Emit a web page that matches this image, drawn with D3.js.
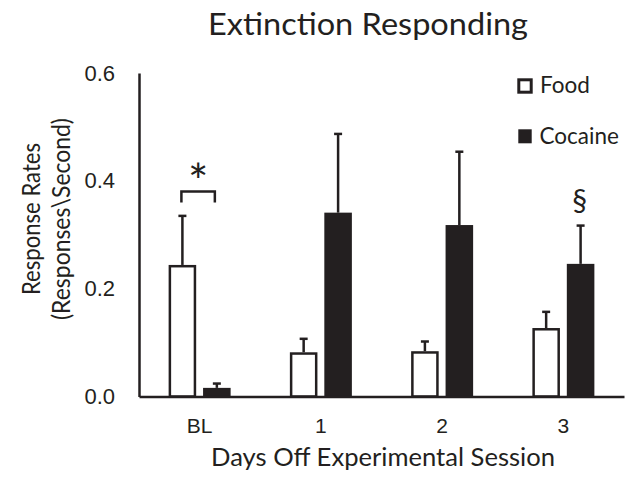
<!DOCTYPE html>
<html>
<head>
<meta charset="utf-8">
<script src="https://cdn.jsdelivr.net/npm/d3@7"></script>
<style>
  body { margin: 0; background: #fff; }
  svg { display: block; font-family: Lato, "Open Sans", sans-serif; }
</style>
</head>
<body>
<svg id="chart" width="634" height="482"></svg>
<script>
// values
var categories = ["BL", "1", "2", "3"];
var series = ["Food", "Cocaine"];
var foodValues = [0.244, 0.082, 0.084, 0.127];
var foodErrors = [0.091, 0.025, 0.018, 0.030];
var cocaineValues = [0.016, 0.341, 0.318, 0.246];
var cocaineErrors = [0.008, 0.146, 0.136, 0.071];
var yTicks = [0, 0.2, 0.4, 0.6];

var ink = "#231f20";

var draw = {

    margin: {top: 73, right: 10, bottom: 85, left: 139},

    index: function () {
        var svg = d3.select("#chart");
        var m = draw.margin;

        var x = d3.scaleBand()
            .domain(categories)
            .range([m.left, 624]);
        var inner = d3.scaleBand()
            .domain(series)
            .range([-31, 31])
            .paddingInner(0.2);
        var y = d3.scaleLinear()
            .domain([0, 0.6])
            .range([396.5, 73]);

        var rows = [];
        categories.forEach(function (c, i) {
            rows.push({cat: c, s: "Food", v: foodValues[i], e: foodErrors[i]});
            rows.push({cat: c, s: "Cocaine", v: cocaineValues[i], e: cocaineErrors[i]});
        });
        function cx(d) { return x(d.cat) + x.bandwidth() / 2 + inner(d.s) + inner.bandwidth() / 2; }

        // title
        svg.append("text")
            .attr("x", 368).attr("y", 35)
            .attr("text-anchor", "middle")
            .attr("font-size", 30)
            .attr("textLength", 320).attr("lengthAdjust", "spacingAndGlyphs")
            .attr("fill", ink)
            .text("Extinction Responding");

        // error bars (only upward)
        var err = svg.append("g").attr("class", "errors")
            .attr("stroke", ink).attr("stroke-width", 2.5);
        err.selectAll("line.stem").data(rows).enter().append("line")
            .attr("class", "stem")
            .attr("x1", cx).attr("x2", cx)
            .attr("y1", function (d) { return y(d.v); })
            .attr("y2", function (d) { return y(d.v + d.e); });
        err.selectAll("line.cap").data(rows).enter().append("line")
            .attr("class", "cap")
            .attr("x1", function (d) { return cx(d) - 4; })
            .attr("x2", function (d) { return cx(d) + 4; })
            .attr("y1", function (d) { return y(d.v + d.e); })
            .attr("y2", function (d) { return y(d.v + d.e); });

        // bars
        var sw = 2.5;
        svg.append("g").attr("class", "bars")
            .selectAll("rect").data(rows).enter().append("rect")
            .attr("x", function (d) {
                var x0 = x(d.cat) + x.bandwidth() / 2 + inner(d.s);
                return d.s === "Food" ? x0 + sw / 2 : x0;
            })
            .attr("width", function (d) { return d.s === "Food" ? inner.bandwidth() - sw : inner.bandwidth(); })
            .attr("y", function (d) { return y(d.v) + (d.s === "Food" ? sw / 2 : 0); })
            .attr("height", function (d) { return Math.max(0, y(0) - y(d.v) - (d.s === "Food" ? sw / 2 : 0)); })
            .attr("fill", function (d) { return d.s === "Food" ? "#fff" : ink; })
            .attr("stroke", function (d) { return d.s === "Food" ? ink : "none"; })
            .attr("stroke-width", sw);

        // y axis
        var gy = svg.append("g")
            .attr("transform", "translate(" + m.left + ",0)")
            .call(d3.axisLeft(y).tickValues(yTicks).tickSize(0).tickSizeOuter(0)
                .tickPadding(24).tickFormat(d3.format(".1f")));
        gy.select(".domain").attr("stroke", ink).attr("stroke-width", 2.5);
        gy.selectAll("text").attr("font-size", 22).attr("fill", ink).attr("font-family", null);

        // x axis
        var gx = svg.append("g")
            .attr("transform", "translate(0," + y(0) + ")")
            .call(d3.axisBottom(x).tickSize(0).tickSizeOuter(0).tickPadding(22));
        gx.select(".domain").attr("stroke", ink).attr("stroke-width", 2.5);
        gx.selectAll("text").attr("font-size", 21).attr("fill", ink).attr("font-family", null);

        // axis titles
        svg.append("text")
            .attr("x", 383).attr("y", 466)
            .attr("text-anchor", "middle")
            .attr("font-size", 25).attr("fill", ink)
            .attr("textLength", 344).attr("lengthAdjust", "spacingAndGlyphs")
            .text("Days Off Experimental Session");
        var yt = svg.append("text")
            .attr("transform", "translate(0,219) rotate(-90)")
            .attr("text-anchor", "middle")
            .attr("font-size", 24.5).attr("fill", ink);
        yt.append("tspan").attr("x", 0).attr("y", 40)
            .attr("textLength", 152).attr("lengthAdjust", "spacingAndGlyphs")
            .text("Response Rates");
        yt.append("tspan").attr("x", 0).attr("y", 70)
            .attr("textLength", 202).attr("lengthAdjust", "spacingAndGlyphs")
            .text("(Responses\\Second)");

        // significance marks
        var bx0 = cx(rows[0]) - 1, bx1 = cx(rows[1]) - 2;
        svg.append("path")
            .attr("d", "M" + bx0 + "," + y(0.36) + "V" + y(0.38) + "H" + bx1 + "V" + y(0.36))
            .attr("fill", "none").attr("stroke", ink).attr("stroke-width", 2.5);
        svg.append("text")
            .attr("x", (bx0 + bx1) / 2).attr("y", 199)
            .attr("text-anchor", "middle")
            .attr("font-size", 48).attr("fill", ink)
            .text("*");
        svg.append("text")
            .attr("x", cx(rows[7]) - 1).attr("y", 211)
            .attr("text-anchor", "middle")
            .attr("font-size", 30).attr("fill", ink)
            .text("§");

        // legend
        var lg = svg.append("g").attr("class", "legend");
        lg.append("rect").attr("x", 518.8).attr("y", 79.8).attr("width", 12.4).attr("height", 12.4)
            .attr("fill", "#fff").attr("stroke", ink).attr("stroke-width", 3);
        lg.append("rect").attr("x", 518.3).attr("y", 129.3).attr("width", 13.4).attr("height", 14)
            .attr("fill", ink);
        lg.append("text").attr("x", 540).attr("y", 92.5).attr("font-size", 22.5).attr("fill", ink).text("Food");
        lg.append("text").attr("x", 539.5).attr("y", 143.5).attr("font-size", 22.5).attr("fill", ink).text("Cocaine");
    }
};

draw.index();
</script>
</body>
</html>
